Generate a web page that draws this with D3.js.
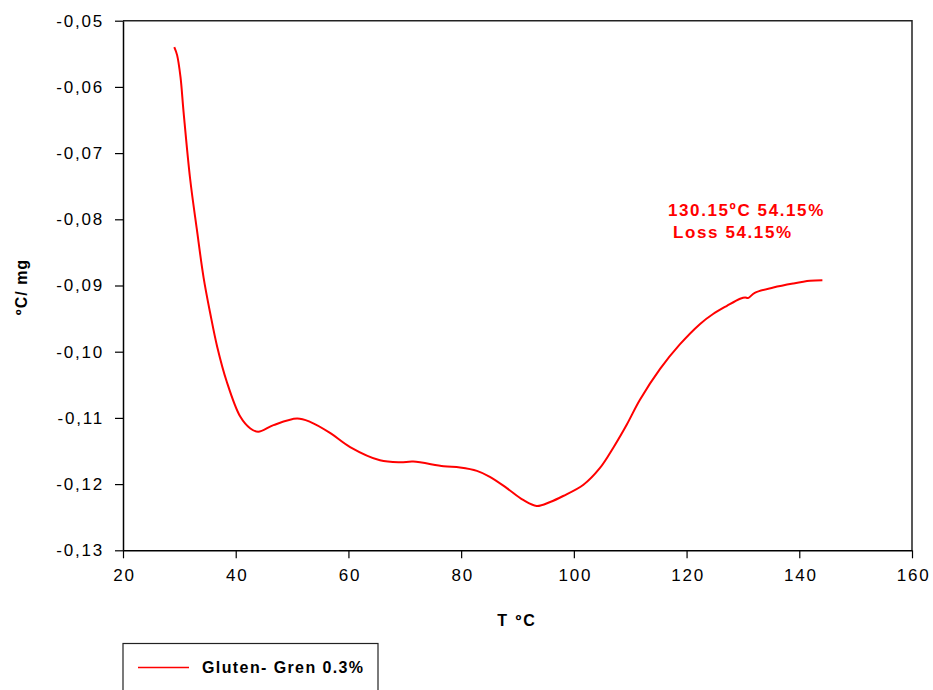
<!DOCTYPE html>
<html>
<head>
<meta charset="utf-8">
<script src="https://cdn.jsdelivr.net/npm/d3@7"></script>
<style>
body{margin:0;background:#fff;}
text{font-family:"Liberation Sans",Arial,sans-serif;}
</style>
</head>
<body>
<svg id="chart" width="933" height="690"></svg>
<script>
// temperature (T ºC) and signal (ºC/mg)
var temps=[29.1,29.6,30.2,30.75,31.9,33.1,34.3,35.5,36.7,38.4,40.8,42.6,44.0,46.7,50.9,53.2,56.8,60.3,65.6,69.2,71.5,76.9,79.8,82.8,85.1,88.1,91.0,93.4,95.8,98.1,101.7,104.6,107.0,109.4,111.7,115.3,118.8,122.4,124.7,127.1,129.5,130.4,130.9,132.1,135.4,138.9,141.9,144.1];
var values=[-0.0540,-0.0552,-0.0585,-0.0638,-0.0738,-0.0815,-0.0888,-0.0943,-0.0992,-0.1045,-0.1098,-0.1116,-0.1121,-0.1111,-0.1101,-0.1106,-0.1123,-0.1144,-0.1164,-0.1167,-0.1166,-0.1173,-0.1175,-0.1180,-0.1189,-0.1206,-0.1224,-0.1233,-0.1227,-0.1218,-0.1201,-0.1176,-0.1145,-0.1110,-0.1073,-0.1026,-0.0989,-0.0958,-0.0943,-0.0931,-0.0920,-0.0918,-0.0919,-0.0911,-0.0903,-0.0897,-0.0893,-0.0892];
var xTicks=[20,40,60,80,100,120,140,160];
var yTicks=[-0.05,-0.06,-0.07,-0.08,-0.09,-0.10,-0.11,-0.12,-0.13];
var seriesName="Gluten- Gren 0.3%";
var noteLines=["130.15ºC 54.15%","Loss 54.15%"];

(function(){
var svg=d3.select("#chart");
var mL=123,mR=912,mT=20.7,mB=550.3;
var x=d3.scaleLinear().domain([20,160]).range([mL,mR]);
var y=d3.scaleLinear().domain([-0.13,-0.05]).range([mB,mT]);

// frame top + right
svg.append("path").attr("d","M"+mL+","+mT+"H"+mR+"V"+mB)
    .attr("fill","none").attr("stroke","#222").attr("stroke-width",1.5);

var fmt=function(d){return d3.format(".2f")(d).replace("\u2212","-").replace(".",",");};
var yAxis=svg.append("g").attr("transform","translate("+mL+",0)")
    .call(d3.axisLeft(y).tickValues(yTicks).tickSize(8).tickSizeOuter(0).tickFormat(fmt));
var xAxis=svg.append("g").attr("transform","translate(0,"+mB+")")
    .call(d3.axisBottom(x).tickValues(xTicks).tickSize(8).tickSizeOuter(0).tickFormat(d3.format("d")));
[yAxis,xAxis].forEach(function(a){
    a.select(".domain").attr("stroke","#000").attr("stroke-width",1.5);
    a.selectAll(".tick line").attr("stroke","#000").attr("stroke-width",1.2);
    a.selectAll(".tick text").attr("font-family","Liberation Sans, Arial, sans-serif")
        .attr("font-size",17).attr("fill","#000").style("letter-spacing","1.8px");
});
yAxis.selectAll(".tick text").attr("x",-19);
xAxis.selectAll(".tick text").attr("y",19).attr("dx","1px");

// axis titles
svg.append("text").attr("x",517).attr("y",626).attr("text-anchor","middle")
    .attr("font-size",16).attr("font-weight","bold").style("letter-spacing","2px").text("T ºC");
svg.append("text").attr("transform","translate(27,287) rotate(-90)").attr("text-anchor","middle")
    .attr("font-size",16).attr("font-weight","bold").style("letter-spacing","1px").text("ºC/ mg");

// curve
var pts=temps.map(function(t,i){return [t,values[i]];});
var line=d3.line().x(function(d){return x(d[0]);}).y(function(d){return y(d[1]);}).curve(d3.curveCatmullRom.alpha(0.5));
svg.append("path").datum(pts).attr("d",line)
    .attr("fill","none").attr("stroke","#ff0000").attr("stroke-width",2);

// annotation
svg.append("text").attr("x",668).attr("y",216).attr("fill","#ff0000").attr("font-size",17)
    .attr("font-weight","bold").style("letter-spacing","1.6px").text(noteLines[0]);
svg.append("text").attr("x",673).attr("y",238).attr("fill","#ff0000").attr("font-size",17)
    .attr("font-weight","bold").style("letter-spacing","1.6px").text(noteLines[1]);

// legend
var legend=svg.append("g");
legend.append("rect").attr("x",123).attr("y",643.5).attr("width",255).attr("height",70)
    .attr("fill","#fff").attr("stroke","#222").attr("stroke-width",1.2);
legend.append("line").attr("x1",138).attr("x2",189).attr("y1",667.5).attr("y2",667.5)
    .attr("stroke","#ff0000").attr("stroke-width",1.5);
legend.append("text").attr("x",202).attr("y",673).attr("font-size",16).attr("font-weight","bold")
    .style("letter-spacing","1.4px").text(seriesName);
})();
</script>
</body>
</html>
